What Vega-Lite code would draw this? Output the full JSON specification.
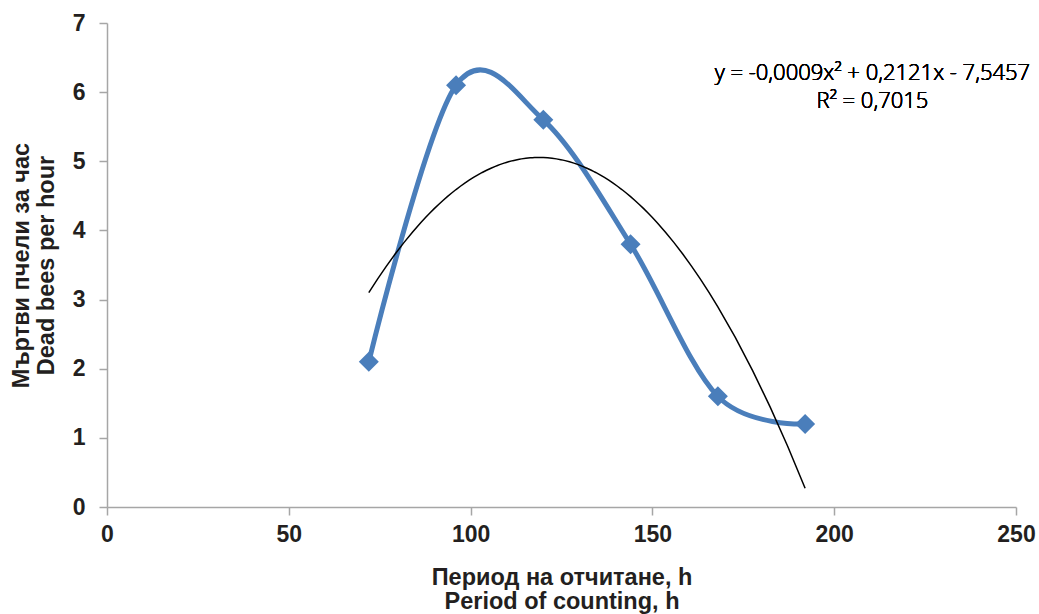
{
  "$schema": "https://vega.github.io/schema/vega-lite/v6.json",
  "autosize": "none",
  "width": 909,
  "height": 484,
  "padding": {"left": 107, "top": 23, "right": 23, "bottom": 107},
  "background": "white",
  "config": {
    "view": {"stroke": null},
    "font": "Liberation Sans",
    "axis": {
      "grid": false,
      "labelFlush": false,
      "domainColor": "#a6a6a6",
      "domainWidth": 1.5,
      "tickColor": "#a6a6a6",
      "tickWidth": 1.5,
      "tickSize": 8,
      "labelFont": "Liberation Sans",
      "labelFontSize": 23,
      "labelFontWeight": "bold",
      "labelColor": "#231f20",
      "titleFont": "Liberation Sans",
      "titleFontSize": 23.5,
      "titleFontWeight": "bold",
      "titleColor": "#231f20",
      "titleLineHeight": 24.5
    }
  },
  "data": {
    "values": [
      {"x": 72, "y": 2.1},
      {"x": 96, "y": 6.1},
      {"x": 120, "y": 5.6},
      {"x": 144, "y": 3.8},
      {"x": 168, "y": 1.6},
      {"x": 192, "y": 1.2}
    ]
  },
  "layer": [
    {
      "mark": {"type": "line", "interpolate": "cardinal", "tension": 0, "color": "#4a7ebb", "strokeWidth": 5},
      "encoding": {
        "x": {"field": "x", "type": "quantitative", "scale": {"domain": [0, 250], "nice": false, "zero": false},
          "axis": {"values": [0, 50, 100, 150, 200, 250], "format": "d", "labelPadding": 8, "titlePadding": 19,
            "title": ["Период на отчитане, h", "Period of counting, h"]}},
        "y": {"field": "y", "type": "quantitative", "scale": {"domain": [0, 7], "nice": false, "zero": false},
          "axis": {"values": [0, 1, 2, 3, 4, 5, 6, 7], "format": "d", "labelPadding": 14, "titlePadding": 14,
            "title": ["Мъртви пчели за час", "Dead bees per hour"]}}
      }
    },
    {
      "mark": {"type": "point", "shape": "diamond", "filled": true, "color": "#4a7ebb", "size": 400, "opacity": 1},
      "encoding": {
        "x": {"field": "x", "type": "quantitative"},
        "y": {"field": "y", "type": "quantitative"}
      }
    },
    {
      "transform": [
        {"regression": "y", "on": "x", "method": "poly", "order": 2, "extent": [72, 192]}
      ],
      "mark": {"type": "line", "color": "#000000", "strokeWidth": 1.5},
      "encoding": {
        "x": {"field": "x", "type": "quantitative"},
        "y": {"field": "y", "type": "quantitative"}
      }
    },
    {
      "mark": {"type": "text", "font": "Open Sans", "fontSize": 22, "fontWeight": 300, "color": "#000000", "align": "center", "baseline": "middle", "lineHeight": 28},
      "encoding": {
        "x": {"datum": 210.5},
        "y": {"datum": 6.27},
        "text": {"value": ["y = -0,0009x² + 0,2121x - 7,5457", "R² = 0,7015"]}
      }
    }
  ]
}
